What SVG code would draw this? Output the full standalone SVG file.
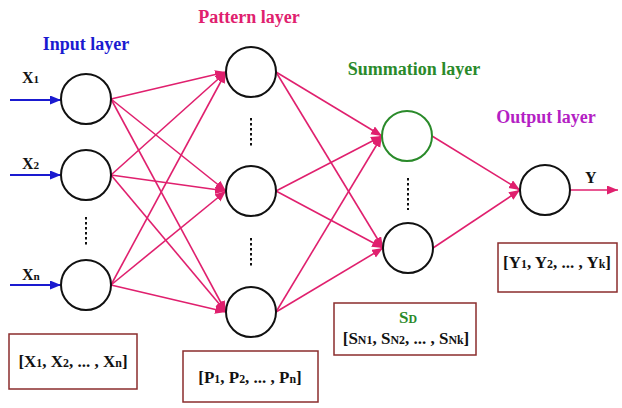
<svg xmlns="http://www.w3.org/2000/svg" width="622" height="408" viewBox="0 0 622 408">
<defs>
<marker id="ap" markerUnits="userSpaceOnUse" markerWidth="12" markerHeight="10" refX="11" refY="4.5" orient="auto"><path d="M0,0 L11,4.5 L0,9 z" fill="#e0206e"/></marker>
<marker id="ab" markerUnits="userSpaceOnUse" markerWidth="12" markerHeight="10" refX="11" refY="4.5" orient="auto"><path d="M0,0 L11,4.5 L0,9 z" fill="#1a1ad0"/></marker>
</defs>
<style>
text{font-family:"Liberation Serif","Times New Roman",serif;font-weight:bold;}
.node{fill:#fff;stroke:#111;stroke-width:2;}
.green{fill:#fff;stroke:#2a8a2a;stroke-width:2;}
.e{stroke:#e0206e;stroke-width:1.6;fill:none;marker-end:url(#ap);}
.eb{stroke:#1a1ad0;stroke-width:1.8;fill:none;marker-end:url(#ab);}
.dots{stroke:#111;stroke-width:2;stroke-dasharray:2.5,2.5;}
.box{fill:#fff;stroke:#8b2d2d;stroke-width:1.5;}
.title{font-size:18px;text-anchor:middle;}
.lbl{font-size:16px;fill:#111;}
.bt{font-size:17px;fill:#111;text-anchor:middle;}
.s{font-size:70%;}
</style>
<g id="titles">
<text class="title" x="86" y="50" fill="#1a1ad0">Input layer</text>
<text class="title" x="249" y="23" fill="#e0206e">Pattern layer</text>
<text class="title" x="414" y="75" fill="#2a8a2a">Summation layer</text>
<text class="title" x="546" y="123" fill="#b41fc4">Output layer</text>
</g>
<g id="connectors">
<line class="eb" x1="10" y1="100" x2="61" y2="100"/>
<line class="eb" x1="10" y1="175" x2="61" y2="175"/>
<line class="eb" x1="10" y1="285" x2="61" y2="285"/>
<line class="e" x1="111" y1="99" x2="226" y2="72"/>
<line class="e" x1="111" y1="99" x2="226" y2="191"/>
<line class="e" x1="111" y1="99" x2="226" y2="312"/>
<line class="e" x1="111" y1="175" x2="226" y2="72"/>
<line class="e" x1="111" y1="175" x2="226" y2="191"/>
<line class="e" x1="111" y1="175" x2="226" y2="312"/>
<line class="e" x1="111" y1="285" x2="226" y2="72"/>
<line class="e" x1="111" y1="285" x2="226" y2="191"/>
<line class="e" x1="111" y1="285" x2="226" y2="312"/>
<line class="e" x1="276" y1="72" x2="382" y2="136"/>
<line class="e" x1="276" y1="72" x2="383" y2="248"/>
<line class="e" x1="276" y1="191" x2="382" y2="136"/>
<line class="e" x1="276" y1="191" x2="383" y2="248"/>
<line class="e" x1="276" y1="312" x2="382" y2="136"/>
<line class="e" x1="276" y1="312" x2="383" y2="248"/>
<line class="e" x1="432" y1="136" x2="520" y2="190"/>
<line class="e" x1="433" y1="248" x2="520" y2="190"/>
<line class="e" x1="570" y1="190" x2="618" y2="190"/>
</g>
<g id="input1"><circle class="node" cx="86" cy="99" r="25"/><text class="lbl" x="22" y="83">X<tspan class="s">1</tspan></text></g>
<g id="input2"><circle class="node" cx="86" cy="175" r="25"/><text class="lbl" x="22" y="169">X<tspan class="s">2</tspan></text></g>
<g id="input-dots"><line class="dots" x1="86" y1="217" x2="86" y2="247"/></g>
<g id="inputn"><circle class="node" cx="86" cy="285" r="25"/><text class="lbl" x="22" y="280">X<tspan class="s">n</tspan></text></g>
<g id="pattern1"><circle class="node" cx="251" cy="72" r="25"/></g>
<g id="pattern-dots1"><line class="dots" x1="251" y1="118" x2="251" y2="148"/></g>
<g id="pattern2"><circle class="node" cx="251" cy="191" r="25"/></g>
<g id="pattern-dots2"><line class="dots" x1="251" y1="238" x2="251" y2="268"/></g>
<g id="pattern3"><circle class="node" cx="251" cy="312" r="25"/></g>
<g id="sum1"><circle class="green" cx="407" cy="136" r="25"/></g>
<g id="sum-dots"><line class="dots" x1="408" y1="178" x2="408" y2="210"/></g>
<g id="sum2"><circle class="node" cx="408" cy="248" r="25"/></g>
<g id="output"><circle class="node" cx="545" cy="190" r="25"/><text class="lbl" x="585" y="183">Y</text></g>
<g id="box-input"><rect class="box" x="9" y="334" width="128" height="55"/><text class="bt" x="73" y="367">[X<tspan class="s">1</tspan>, X<tspan class="s">2</tspan>, ... , X<tspan class="s">n</tspan>]</text></g>
<g id="box-pattern"><rect class="box" x="183" y="351" width="135" height="51"/><text class="bt" x="250" y="383">[P<tspan class="s">1</tspan>, P<tspan class="s">2</tspan>, ... , P<tspan class="s">n</tspan>]</text></g>
<g id="box-sum"><rect class="box" x="334" y="303" width="142" height="52"/><text class="bt" x="408" y="323" style="fill:#2a8a2a">S<tspan class="s">D</tspan></text><text class="bt" x="406" y="344">[S<tspan class="s">N1</tspan>, S<tspan class="s">N2</tspan>, ... , S<tspan class="s">Nk</tspan>]</text></g>
<g id="box-output"><rect class="box" x="498" y="243" width="119" height="49"/><text class="bt" x="557" y="268">[Y<tspan class="s">1</tspan>, Y<tspan class="s">2</tspan>, ... , Y<tspan class="s">k</tspan>]</text></g>
</svg>
